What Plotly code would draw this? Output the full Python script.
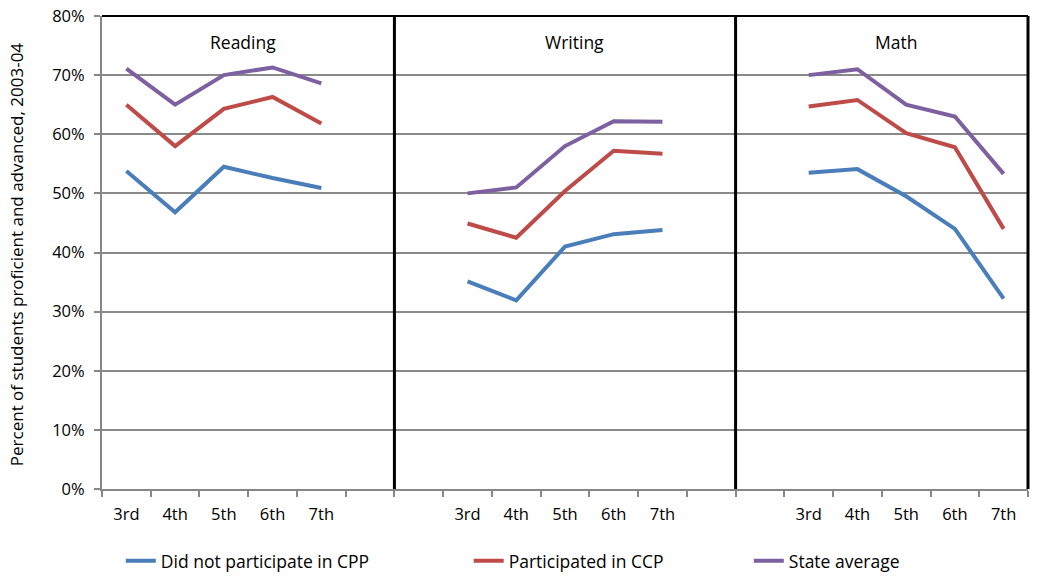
import plotly.graph_objects as go

# grade labels and subjects
grades = ["3rd", "4th", "5th", "6th", "7th"]
subjects = ["Reading", "Writing", "Math"]
slot_gap = 2  # empty category slots between subject panels

# percent proficient and advanced, 2003-04
not_cpp = {
    "Reading": [53.8, 46.8, 54.5, 52.6, 50.9],
    "Writing": [35.1, 31.9, 41.0, 43.1, 43.8],
    "Math": [53.5, 54.1, 49.5, 44.0, 32.2],
}
in_ccp = {
    "Reading": [65.0, 58.0, 64.3, 66.3, 61.8],
    "Writing": [44.9, 42.5, 50.4, 57.2, 56.7],
    "Math": [64.7, 65.8, 60.2, 57.8, 44.0],
}
state_avg = {
    "Reading": [71.1, 65.0, 70.0, 71.3, 68.6],
    "Writing": [50.0, 51.0, 58.0, 62.2, 62.1],
    "Math": [70.0, 71.0, 65.0, 63.0, 53.3],
}

series = [
    ("Did not participate in CPP", not_cpp, "#4A7EBB"),
    ("Participated in CCP", in_ccp, "#BE4B48"),
    ("State average", state_avg, "#7D60A0"),
]

step = len(grades) + slot_gap
n_slots = step * (len(subjects) - 1) + len(grades)

fig = go.Figure()

for i, (name, vals, color) in enumerate(series):
    for j, subj in enumerate(subjects):
        xs = [j * step + k for k in range(len(grades))]
        fig.add_trace(go.Scatter(
            x=xs, y=vals[subj], mode="lines", name=name,
            line=dict(color=color, width=4),
            legend="legend" if i == 0 else f"legend{i + 1}",
            showlegend=(j == 0),
        ))

tickvals = [j * step + k for j in range(len(subjects)) for k in range(len(grades))]
ticktext = grades * len(subjects)

fig.update_xaxes(
    range=[-0.5, n_slots - 0.5], automargin=False,
    tickvals=tickvals, ticktext=ticktext, ticks="",
    showgrid=False, zeroline=False,
    showline=True, linecolor="#878787", linewidth=2,
    tickfont=dict(size=16.5, color="#000"),
    ticklabelstandoff=9,
    minor=dict(tickvals=[x - 0.5 for x in range(n_slots + 1)],
               ticks="outside", ticklen=6, tickcolor="#878787", tickwidth=2,
               showgrid=False),
)
fig.update_yaxes(
    range=[0, 80], dtick=10, ticksuffix="%", automargin=False,
    showgrid=True, gridcolor="#8a8a8a", gridwidth=2,
    zeroline=False,
    showline=True, linecolor="#878787", linewidth=2,
    ticks="outside", ticklen=6, tickcolor="#878787", tickwidth=2,
    tickfont=dict(size=16.5, color="#000"),
    ticklabelstandoff=6,
)

# y axis title
fig.add_annotation(x=-0.092, y=0.496, xref="paper", yref="paper", textangle=-90,
                   xanchor="center", yanchor="middle",
                   text="Percent of students proficient and advanced, 2003-04",
                   showarrow=False, font=dict(size=17, color="#000"))

# panel dividers and frame
for j in range(1, len(subjects)):
    xd = j * step - 1.5
    fig.add_shape(type="line", xref="x", yref="paper", x0=xd, x1=xd, y0=0, y1=1,
                  line=dict(color="#000", width=3))
fig.add_shape(type="line", xref="paper", yref="paper", x0=0, x1=1, y0=1, y1=1,
              line=dict(color="#000", width=2))
fig.add_shape(type="line", xref="paper", yref="paper", x0=1, x1=1, y0=0, y1=1,
              line=dict(color="#000", width=3))

# panel titles
title_pos = [2.4, 9.2, 15.8]
for subj, xp in zip(subjects, title_pos):
    fig.add_annotation(x=xp, y=0.945, xref="x", yref="paper", text=subj,
                       xanchor="center", yanchor="middle",
                       showarrow=False, font=dict(size=17.5, color="#000"))

leg_style = dict(orientation="h", yanchor="middle", y=-0.152, xanchor="left",
                 font=dict(size=17.5, color="#000"), bgcolor="rgba(0,0,0,0)")
fig.update_layout(
    legend=dict(x=0.0203, **leg_style),
    legend2=dict(x=0.396, **leg_style),
    legend3=dict(x=0.6985, **leg_style),
)

fig.update_layout(
    width=1037, height=576,
    margin=dict(l=102, r=9, t=16, b=87, autoexpand=False),
    paper_bgcolor="white", plot_bgcolor="white",
    font=dict(family="Open Sans, Noto Sans, sans-serif", color="#000"),
)

# drop the default page margin so the figure sits at the window's corner
fig.write_html("out.html", config={"displayModeBar": False},
               post_script="document.body.style.margin = '0';")
